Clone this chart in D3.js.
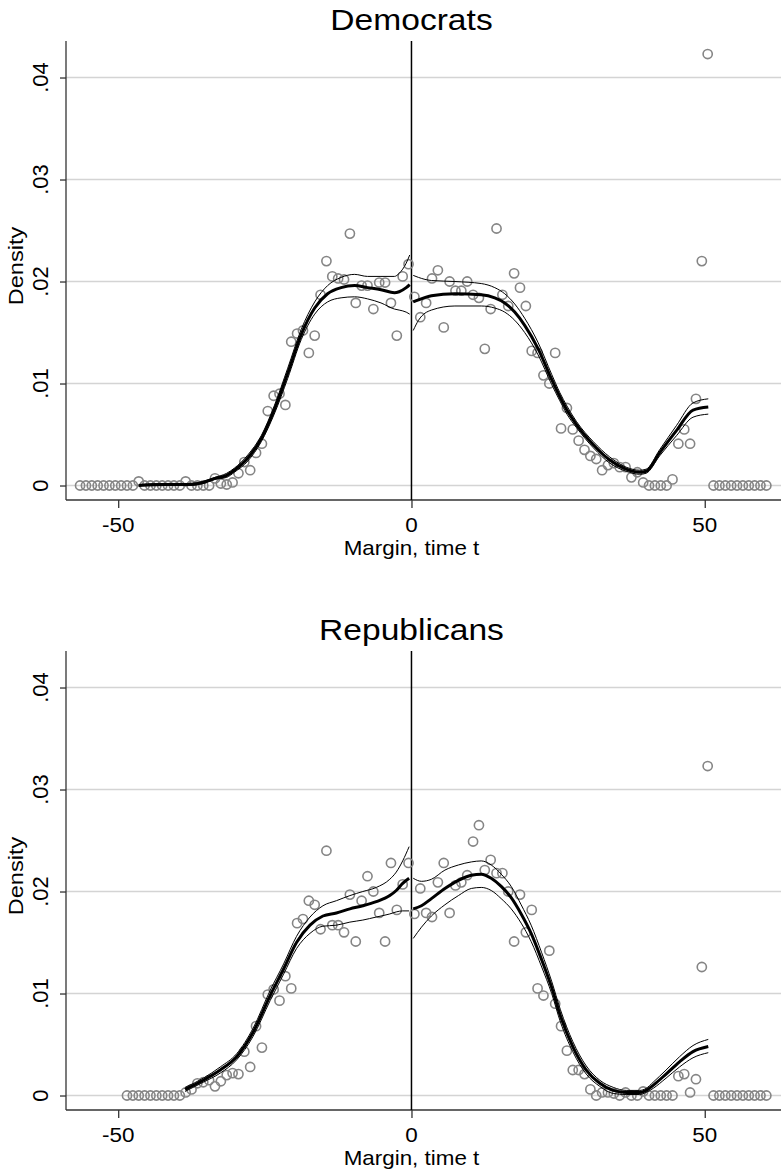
<!DOCTYPE html>
<html>
<head>
<meta charset="utf-8">
<script src="https://cdn.jsdelivr.net/npm/d3@7"></script>
<style>
  html, body { margin: 0; padding: 0; background: #fff; }
  svg text { font-family: "Liberation Sans", Arial, Helvetica, sans-serif; fill: #000; }
</style>
</head>
<body>
<svg id="chart" width="781" height="1173"></svg>
<script>
// Binned densities of the vote margin (bins of width 1, centred on half units)
const demBinStart = -56.5, demBinEnd = 60.5;
const demDensity = [
  0,0,0,0,0,0,0,0,0,0,
  0.0004,
  0,0,0,0,0,0,0,
  0.0004,
  0,0,0,0,
  0.0007,0.0002,0.0001,0.0003,0.0012,0.0023,0.0015,0.0032,0.0041,0.0073,
  0.0088,0.0090,0.0079,0.0141,0.0149,0.0152,0.0130,0.0147,0.0187,0.0220,
  0.0205,0.0203,0.0202,0.0247,0.0179,0.0196,0.0196,0.0173,0.0199,0.0199,
  0.0179,0.0147,0.0205,0.0217,
  0.0185,0.0165,0.0179,0.0203,0.0211,0.0155,0.0200,0.0191,0.0191,0.0200,
  0.0187,0.0184,0.0134,0.0173,0.0252,0.0187,0.0176,0.0208,0.0194,0.0176,
  0.0132,0.0130,0.0108,0.0100,0.0130,0.0056,0.0076,0.0055,0.0044,0.0035,
  0.0029,0.0026,0.0015,0.0020,0.0022,0.0018,0.0018,0.0008,0.0013,0.0003,
  0,0,0,0,0.0006,0.0041,0.0055,0.0041,0.0085,0.0220,0.0423,
  0,0,0,0,0,0,0,0,0,0
];

const repBinStart = -48.5, repBinEnd = 60.5;
const repDensity = [
  0,0,0,0,0,0,0,0,0,0,
  0.0003,0.0006,0.0012,0.0013,0.0015,0.0009,0.0014,0.0020,0.0022,0.0021,
  0.0043,0.0028,0.0068,0.0047,0.0099,0.0104,0.0093,0.0117,0.0105,0.0169,
  0.0173,0.0191,0.0187,0.0163,0.0240,0.0167,0.0167,0.0160,0.0197,0.0151,
  0.0191,0.0215,0.0200,0.0179,0.0151,0.0228,0.0182,0.0207,0.0228,
  0.0178,0.0203,0.0179,0.0175,0.0209,0.0228,0.0179,0.0206,0.0209,0.0216,
  0.0249,0.0265,0.0221,0.0231,0.0218,0.0218,0.0200,0.0151,0.0197,0.0160,
  0.0182,0.0105,0.0098,0.0142,0.0090,0.0068,0.0044,0.0025,0.0025,0.0021,
  0.0006,0,0.0003,0.0003,0.0002,0,0.0003,0,0,0.0004,
  0,0,0,0,0,0.0019,0.0021,0.0003,0.0016,0.0126,0.0323,
  0,0,0,0,0,0,0,0,0,0
];

// Local polynomial density fits with confidence bands, left and right of zero
const demFitLeftX  = [-46.5,-42,-38,-35.5,-33.5,-31.5,-30.2,-27.9,-25.6,-23.4,-21.1,-18.8,-16.5,-14.3,-12,-9.7,-7.5,-5.2,-2.9,-2.1,-0.9,-0.3];
const demFitLeft   = [0,0.0001,0.0001,0.0003,0.0007,0.0010,0.0015,0.0027,0.0046,0.0074,0.0110,0.0148,0.0174,0.0188,0.0194,0.0196,0.0194,0.0192,0.0189,0.0190,0.0194,0.0197];
const demFitLeftHi = [0.0001,0.0002,0.0002,0.0004,0.0008,0.0012,0.0017,0.0030,0.0049,0.0078,0.0115,0.0153,0.0180,0.0196,0.0204,0.0207,0.0205,0.0205,0.0205,0.0208,0.0218,0.0226];
const demFitLeftLo = [0,0,0,0.0002,0.0006,0.0008,0.0013,0.0024,0.0043,0.0070,0.0105,0.0143,0.0168,0.0180,0.0184,0.0185,0.0183,0.0179,0.0173,0.0172,0.0170,0.0168];

const demFitRightX  = [0.3,1.2,3.4,7.4,11.9,14.2,15.9,17.6,19.3,21.6,23.9,25.3,26.5,28.1,31,33.8,36.6,38.9,40,42.3,45.2,48,50.6];
const demFitRight   = [0.0180,0.0182,0.0186,0.0188,0.0187,0.0184,0.0179,0.0170,0.0157,0.0134,0.0104,0.0087,0.0074,0.0060,0.0040,0.0025,0.0016,0.0013,0.0014,0.0032,0.0054,0.0074,0.0077];
const demFitRightHi = [0.0206,0.0204,0.0201,0.0200,0.0198,0.0194,0.0188,0.0178,0.0164,0.0140,0.0109,0.0091,0.0078,0.0063,0.0043,0.0028,0.0018,0.0015,0.0016,0.0035,0.0059,0.0081,0.0085];
const demFitRightLo = [0.0152,0.0162,0.0172,0.0176,0.0176,0.0174,0.0170,0.0162,0.0150,0.0128,0.0099,0.0083,0.0070,0.0057,0.0037,0.0022,0.0014,0.0011,0.0012,0.0029,0.0049,0.0067,0.0070];

const repFitLeftX  = [-38.6,-35.5,-32.6,-29.8,-27,-24.1,-21.8,-19.6,-17.3,-15.1,-12.8,-10.5,-8.3,-6,-3.7,-2.6,-1.5,-0.4];
const repFitLeft   = [0.0006,0.0015,0.0025,0.0038,0.0062,0.0098,0.0124,0.0150,0.0167,0.0176,0.0179,0.0183,0.0186,0.0190,0.0196,0.0201,0.0208,0.0213];
const repFitLeftHi = [0.0008,0.0017,0.0028,0.0041,0.0066,0.0103,0.0129,0.0156,0.0175,0.0186,0.0191,0.0196,0.0200,0.0204,0.0212,0.0219,0.0230,0.0244];
const repFitLeftLo = [0.0004,0.0013,0.0022,0.0035,0.0058,0.0093,0.0119,0.0144,0.0159,0.0166,0.0167,0.0170,0.0172,0.0175,0.0178,0.0180,0.0181,0.0181];

const repFitRightX  = [0.3,1.7,3.4,5.7,8.0,10.2,11.9,13.6,15.3,17.0,18.7,20.4,22.2,23.9,25.4,27.5,29.8,32.1,34.4,36.6,38.9,40.0,41.2,43.4,45.7,48.0,50.6];
const repFitRight   = [0.0183,0.0186,0.0193,0.0203,0.0211,0.0216,0.0217,0.0213,0.0205,0.0194,0.0178,0.0159,0.0133,0.0106,0.0078,0.0048,0.0025,0.0012,0.0005,0.0003,0.0003,0.0005,0.0010,0.0021,0.0033,0.0043,0.0048];
const repFitRightHi = [0.0213,0.0210,0.0212,0.0221,0.0226,0.0229,0.0230,0.0226,0.0217,0.0205,0.0187,0.0167,0.0140,0.0112,0.0084,0.0053,0.0029,0.0015,0.0008,0.0005,0.0005,0.0007,0.0013,0.0025,0.0038,0.0049,0.0055];
const repFitRightLo = [0.0154,0.0165,0.0176,0.0187,0.0196,0.0203,0.0204,0.0201,0.0193,0.0183,0.0169,0.0151,0.0126,0.0100,0.0072,0.0043,0.0021,0.0009,0.0002,0.0001,0.0001,0.0003,0.0007,0.0017,0.0028,0.0037,0.0042];

// Axis ticks
const xTicks = [-50, 0, 50];
const yTicks = [0, 0.01, 0.02, 0.03, 0.04];
const yTickLabels = ["0", ".01", ".02", ".03", ".04"];

const panels = [
  { title: "Democrats", top: 41, binStart: demBinStart, binEnd: demBinEnd, density: demDensity,
    fits: [
      { x: demFitLeftX, mid: demFitLeft, hi: demFitLeftHi, lo: demFitLeftLo },
      { x: demFitRightX, mid: demFitRight, hi: demFitRightHi, lo: demFitRightLo }
    ] },
  { title: "Republicans", top: 651, binStart: repBinStart, binEnd: repBinEnd, density: repDensity,
    fits: [
      { x: repFitLeftX, mid: repFitLeft, hi: repFitLeftHi, lo: repFitLeftLo },
      { x: repFitRightX, mid: repFitRight, hi: repFitRightHi, lo: repFitRightLo }
    ] }
];

const svg = d3.select("#chart");
svg.append("rect").attr("width", 781).attr("height", 1173).attr("fill", "#fff");

const plotLeft = 66, plotRight = 781, plotHeight = 459;
const x = d3.scaleLinear().domain([-58.9, 63]).range([plotLeft, plotRight]);

// text helper: horizontal stretch to reproduce the wide rendering of the labels
function label(g, txt, px, py, size, sx, rotate, anchor) {
  return g.append("text")
    .attr("transform", `translate(${px},${py})` + (rotate ? " rotate(-90)" : "") + ` scale(${sx},1)`)
    .attr("text-anchor", anchor || "middle")
    .attr("font-size", size)
    .text(txt);
}

panels.forEach(p => {
  const g = svg.append("g");
  const y = d3.scaleLinear().domain([-0.00142, 0.04358]).range([p.top + plotHeight, p.top]);
  const bottom = p.top + plotHeight;

  // horizontal grid
  g.append("g").selectAll("line").data(yTicks).join("line")
    .attr("x1", plotLeft).attr("x2", plotRight)
    .attr("y1", d => y(d)).attr("y2", d => y(d))
    .attr("stroke", "#d4d4d4").attr("stroke-width", 1.5);

  // axes
  const yAxis = g.append("g").attr("transform", `translate(${plotLeft},0)`)
    .call(d3.axisLeft(y).tickValues(yTicks).tickSize(6).tickFormat(""));
  const xAxis = g.append("g").attr("transform", `translate(0,${bottom})`)
    .call(d3.axisBottom(x).tickValues(xTicks).tickSize(8).tickFormat(""));
  [yAxis, xAxis].forEach(a => {
    a.select(".domain").attr("stroke", "#333").attr("stroke-width", 1.3);
    a.selectAll(".tick line").attr("stroke", "#333").attr("stroke-width", 1.3);
  });
  // y axis line spans the plot height only
  yAxis.select(".domain").attr("d", `M0,${p.top}V${bottom}`);
  xAxis.select(".domain").attr("d", `M${plotLeft},0H${plotRight}`);

  // tick labels
  yTicks.forEach((t, i) => label(g, yTickLabels[i], 48, y(t), 22, 1.0, true));
  xTicks.forEach(t => label(g, String(t), x(t), bottom + 32, 21, 1.07, false));

  // titles
  label(g, p.title, x(0), p.top - 11, 30, 1.12, false);
  label(g, "Margin, time t", x(0), bottom + 55, 20, 1.12, false);
  label(g, "Density", 23, p.top + 225, 21, 1.12, true);

  // cutoff line at zero
  g.append("line")
    .attr("x1", x(0)).attr("x2", x(0)).attr("y1", p.top).attr("y2", bottom)
    .attr("stroke", "#000").attr("stroke-width", 1.5);

  // binned density points
  const bins = d3.range(p.binStart, p.binEnd + 0.5, 1);
  g.append("g").selectAll("circle").data(bins).join("circle")
    .attr("cx", d => x(d)).attr("cy", (d, i) => y(p.density[i]))
    .attr("r", 4.6)
    .attr("fill", "none").attr("stroke", "#858585").attr("stroke-width", 1.6);

  // fitted density and confidence band
  p.fits.forEach(f => {
    const mk = vals => d3.line().curve(d3.curveMonotoneX)
      .x((d, i) => x(f.x[i])).y(d => y(d))(vals);
    g.append("path").attr("d", mk(f.hi)).attr("fill", "none").attr("stroke", "#000").attr("stroke-width", 1);
    g.append("path").attr("d", mk(f.lo)).attr("fill", "none").attr("stroke", "#000").attr("stroke-width", 1);
    g.append("path").attr("d", mk(f.mid)).attr("fill", "none").attr("stroke", "#000").attr("stroke-width", 3);
  });
});
</script>
</body>
</html>
